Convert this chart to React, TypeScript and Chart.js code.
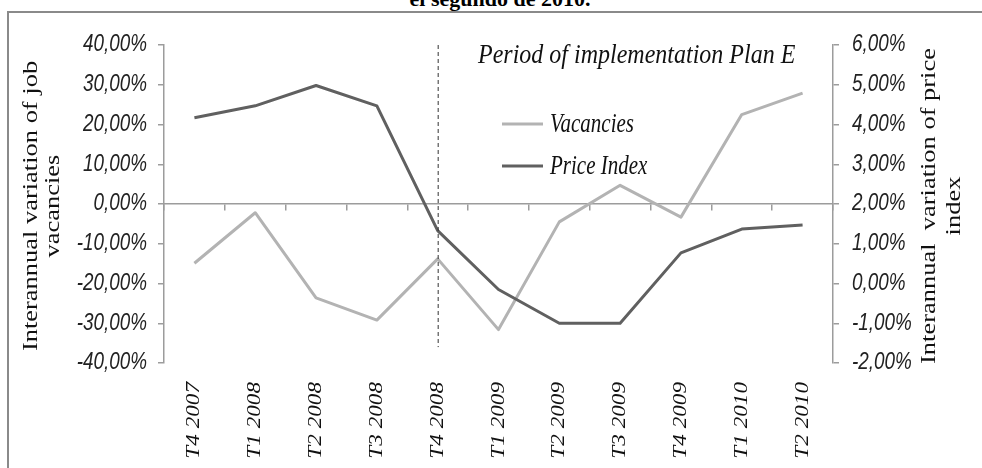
import { useEffect, useRef } from "react";
import { Chart, registerables } from "chart.js";

Chart.register(...registerables);

const categories = [
  "T4 2007", "T1 2008", "T2 2008", "T3 2008", "T4 2008", "T1 2009",
  "T2 2009", "T3 2009", "T4 2009", "T1 2010", "T2 2010",
];
const vacancies = [-14.9, -2.2, -23.6, -29.2, -13.8, -31.6, -4.5, 4.7, -3.3, 22.5, 27.9];
const priceIndex = [4.17, 4.47, 4.98, 4.47, 1.33, -0.15, -1.0, -1.0, 0.77, 1.37, 1.47];
const leftRange = [-40, 40];
const leftStep = 10;
const rightRange = [-2, 6];
const rightStep = 1;
const planStart = "T4 2008";
const planDashEnd = -36;
const annotationText = "Period of implementation Plan E";
const leftTitle = ["Interannual variation of job", "vacancies"];
const rightTitle = ["Interannual  variation of price", "index"];
const topTitle = "el segundo de 2010.";
const seriesNames = ["Vacancies", "Price Index"];

const LIGHT = "#b3b3b3";
const DARK = "#606060";
const AXIS = "#9c9c9c";
const SERIF = "'Liberation Serif', 'Times New Roman', serif";
const SANS = "'Liberation Sans', Arial, sans-serif";

const fmt = (v: number) => v.toFixed(2).replace(".", ",") + "%";

function drawText(
  ctx: CanvasRenderingContext2D,
  text: string,
  x: number,
  y: number,
  font: string,
  opts: { sx?: number; sy?: number; align?: CanvasTextAlign; baseline?: CanvasTextBaseline; rot?: number; color?: string } = {}
) {
  ctx.save();
  ctx.translate(x, y);
  if (opts.rot) ctx.rotate(opts.rot);
  ctx.scale(opts.sx ?? 1, opts.sy ?? 1);
  ctx.font = font;
  ctx.fillStyle = opts.color ?? "#000";
  ctx.textAlign = opts.align ?? "left";
  ctx.textBaseline = opts.baseline ?? "alphabetic";
  ctx.fillText(text, 0, 0);
  ctx.restore();
}

const decorPlugin = {
  id: "decor",
  afterDatasetsDraw(chart: any) {
    const ctx: CanvasRenderingContext2D = chart.ctx;
    const { x, y, y1 } = chart.scales;
    const area = chart.chartArea;

    // dashed line marking start of Plan E
    const px = x.getPixelForValue(categories.indexOf(planStart));
    ctx.save();
    ctx.strokeStyle = "#333";
    ctx.lineWidth = 1;
    ctx.setLineDash([4, 3]);
    ctx.beginPath();
    ctx.moveTo(px + 0.5, area.top);
    ctx.lineTo(px + 0.5, y.getPixelForValue(planDashEnd));
    ctx.stroke();
    ctx.restore();

    // annotation
    drawText(ctx, annotationText, area.left + 314, area.top + 18, `italic 24px ${SERIF}`, { sy: 1.12, color: "#111" });

    // legend
    const ds = chart.data.datasets;
    const order = [1, 0];
    order.forEach((di: number, i: number) => {
      const d = ds[di];
      const ly = area.top + 79 + i * 42;
      ctx.save();
      ctx.strokeStyle = d.borderColor;
      ctx.lineWidth = 3;
      ctx.beginPath();
      ctx.moveTo(area.left + 338, ly);
      ctx.lineTo(area.left + 379, ly);
      ctx.stroke();
      ctx.restore();
      drawText(ctx, d.label, area.left + 386, ly + 8, `italic 21px ${SERIF}`, { sy: 1.25, color: "#111" });
    });

    // y tick labels (narrow italic)
    const tickFont = `italic 23px ${SANS}`;
    y.ticks.forEach((t: any) => {
      drawText(ctx, fmt(t.value), y.right - 17, y.getPixelForValue(t.value), tickFont, {
        sx: 0.82, align: "right", baseline: "middle", color: "#222",
      });
    });
    y1.ticks.forEach((t: any) => {
      drawText(ctx, fmt(t.value), y1.left + 19, y1.getPixelForValue(t.value), tickFont, {
        sx: 0.82, align: "left", baseline: "middle", color: "#222",
      });
    });

    // x tick labels (rotated, elongated)
    x.ticks.forEach((t: any) => {
      drawText(ctx, x.getLabelForValue(t.value), x.getPixelForValue(t.value), area.bottom + 19, `italic 19px ${SERIF}`, {
        rot: -Math.PI / 2, sx: 1.22, align: "right", baseline: "middle", color: "#111",
      });
    });

    // axis titles
    const cy = (area.top + area.bottom) / 2 + 2;
    const titleFont = `21px ${SERIF}`;
    drawText(ctx, leftTitle[0], 37, cy, titleFont, { rot: -Math.PI / 2, sx: 1.26, align: "center", color: "#111" });
    drawText(ctx, leftTitle[1], 59, cy, titleFont, { rot: -Math.PI / 2, sx: 1.26, align: "center", color: "#111" });
    const rx = y1.right;
    drawText(ctx, rightTitle[0], rx - 47, cy, titleFont, { rot: -Math.PI / 2, sx: 1.26, align: "center", color: "#111" });
    drawText(ctx, rightTitle[1], rx - 22, cy, titleFont, { rot: -Math.PI / 2, sx: 1.26, align: "center", color: "#111" });
  },
};

export default function App() {
  const canvasRef = useRef<HTMLCanvasElement | null>(null);

  useEffect(() => {
    if (!canvasRef.current) return;
    const chart = new Chart(canvasRef.current, {
      type: "line",
      data: {
        labels: categories,
        datasets: [
          {
            label: seriesNames[1],
            data: priceIndex,
            yAxisID: "y1",
            xAxisID: "x",
            borderColor: DARK,
            borderWidth: 3,
            pointRadius: 0,
            tension: 0,
            order: 0,
            borderJoinStyle: "round",
          },
          {
            label: seriesNames[0],
            data: vacancies,
            yAxisID: "y",
            xAxisID: "x",
            borderColor: LIGHT,
            borderWidth: 3,
            pointRadius: 0,
            tension: 0,
            order: 1,
            borderJoinStyle: "round",
          },
        ],
      },
      options: {
        animation: false,
        responsive: false,
        maintainAspectRatio: false,
        layout: { padding: { top: 45, left: 0, right: 0, bottom: 0 } },
        plugins: { legend: { display: false }, tooltip: { enabled: false }, title: { display: false } },
        scales: {
          x: {
            type: "category",
            position: "bottom",
            offset: true,
            grid: { display: false, drawTicks: false },
            border: { display: false },
            ticks: { display: false, autoSkip: false },
            afterFit(s: any) {
              s.height = 127;
            },
          },
          xz: {
            type: "category",
            labels: categories,
            position: { y: 0 },
            offset: true,
            grid: { display: true, drawOnChartArea: false, drawTicks: true, tickLength: 6, offset: true, color: AXIS, lineWidth: 1.5 },
            border: { display: true, color: AXIS, width: 1.5 },
            ticks: { display: false },
          },
          y: {
            position: "left",
            min: leftRange[0],
            max: leftRange[1],
            grid: { drawOnChartArea: false, drawTicks: true, tickLength: 6, color: AXIS, lineWidth: 1.5 },
            border: { display: true, color: AXIS, width: 1.5 },
            ticks: { stepSize: leftStep, display: false },
            afterFit(s: any) {
              s.width = 164;
            },
          },
          y1: {
            position: "right",
            min: rightRange[0],
            max: rightRange[1],
            grid: { drawOnChartArea: false, drawTicks: true, tickLength: 6, color: AXIS, lineWidth: 1.5 },
            border: { display: true, color: AXIS, width: 1.5 },
            ticks: { stepSize: rightStep, display: false },
            afterFit(s: any) {
              s.width = 149;
            },
          },
        },
      } as any,
      plugins: [decorPlugin],
    });
    return () => chart.destroy();
  }, []);

  return (
    <div
      style={{
        position: "fixed",
        left: 0,
        top: 0,
        width: 982,
        height: 468,
        overflow: "hidden",
        background: "#fff",
      }}
    >
      <div
        style={{
          position: "absolute",
          left: 7,
          top: 11,
          width: 1000,
          height: 520,
          borderLeft: "2px solid #8a8a8a",
          borderTop: "2px solid #8a8a8a",
        }}
      />
      <div
        style={{
          position: "absolute",
          left: 0,
          width: 1000,
          top: -12,
          textAlign: "center",
          font: `bold 22px ${SERIF}`,
          lineHeight: "22px",
          whiteSpace: "nowrap",
        }}
      >
        {topTitle}
      </div>
      <canvas
        ref={canvasRef}
        width={982}
        height={490}
        style={{ position: "absolute", left: 0, top: 0, width: 982, height: 490 }}
      />
    </div>
  );
}
